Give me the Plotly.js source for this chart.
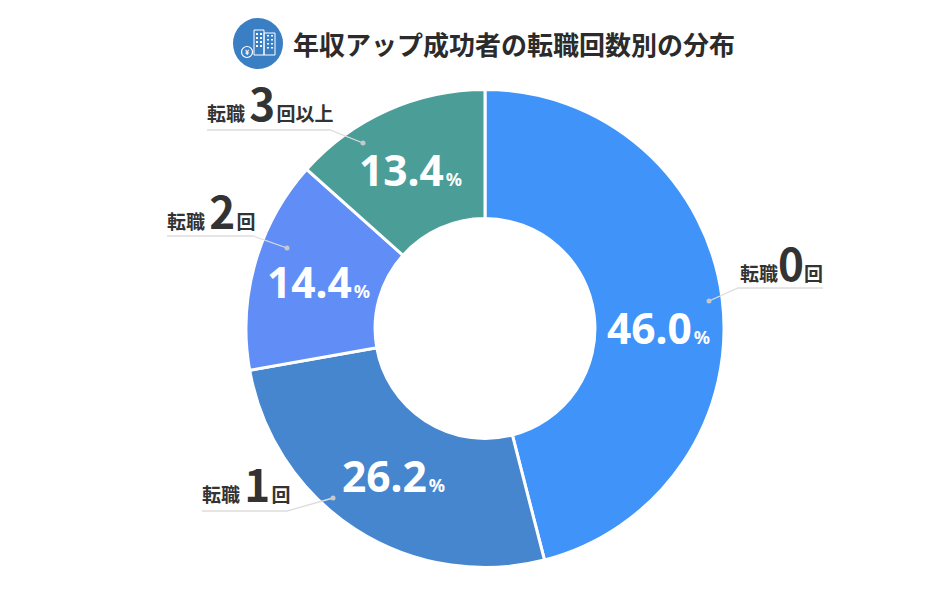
<!DOCTYPE html>
<html><head><meta charset="utf-8">
<script src="https://cdn.plot.ly/plotly-3.0.1.min.js"></script>
<style>html,body{margin:0;padding:0;background:#fff}</style></head>
<body><div id="c" style="width:940px;height:615px"></div>
<script>
const categories = ['転職0回','転職1回','転職2回','転職3回以上'];
const shares = [46.0, 26.2, 14.4, 13.4];
const sliceColors = ['#3F93F9','#4586CF','#618DF6','#4A9E97'];
const labelPrefix = ['転職','転職 ','転職 ','転職 '];
const labelNumbers = ['0','1','2','3'];
const labelSuffix = ['回','\u200A回','\u200A回','\u200A回以上'];
const titleText = '年収アップ成功者の転職回数別の分布';
const W=940,H=615;
const px=x=>x/W, py=y=>1-y/H;
const FONT='"Noto Sans CJK JP","Noto Sans",sans-serif';
const INK='#333333';
function seg(pts,color,width){
  return {type:'path',xref:'paper',yref:'paper',
    path:'M'+pts.map(p=>px(p[0])+','+py(p[1])).join(' L'),
    line:{color:color,width:width}};
}
function dot(x,y){return {type:'circle',xref:'paper',yref:'paper',x0:px(x-2.5),x1:px(x+2.5),y0:py(y+2.5),y1:py(y-2.5),fillcolor:'#C8C8C8',line:{width:0}};}
function box(x0,y0,x1,y1,fill,lc){return {type:'rect',xref:'paper',yref:'paper',x0:px(x0),x1:px(x1),y0:py(y1),y1:py(y0),fillcolor:fill,line:{color:lc||fill,width:lc?1:0}};}
const leaders=[
 {p:[[823,288],[738,288],[709,301]]},
 {p:[[202,511],[287,511],[333,498]]},
 {p:[[167,236],[253,236],[287,248]]},
 {p:[[207,130],[330,130],[363,143]]}
];
const labelPos=[[739,262],[201,483],[166,210],[206,102]];
const pctPos=[[606,327],[341,475],[266,281],[358,170]];
const shapes=[];
leaders.forEach(l=>{shapes.push(seg(l.p,'#DDDDDD',1.3));const e=l.p[2];shapes.push(dot(e[0],e[1]));});
// title icon
shapes.push({type:'circle',xref:'paper',yref:'paper',x0:px(233),x1:px(283),y0:py(69),y1:py(18),fillcolor:'#3A7FC3',line:{width:0}});
shapes.push(box(254,30,264,55,'rgba(0,0,0,0)','#FFFFFF'));
shapes.push(box(264,33,275,55,'rgba(0,0,0,0)','#FFFFFF'));
[33,37,41,45].forEach(y=>{shapes.push(box(256,y,258,y+2,'#FFFFFF'));shapes.push(box(260,y,262,y+2,'#FFFFFF'));shapes.push(box(267,y+2,269,y+3.5,'#FFFFFF'));shapes.push(box(271,y+2,273,y+3.5,'#FFFFFF'));});
shapes.push({type:'circle',xref:'paper',yref:'paper',x0:px(241.5),x1:px(252.5),y0:py(57.5),y1:py(46.5),fillcolor:'#3A7FC3',line:{color:'#FFFFFF',width:1.2}});
const annotations=categories.map((c,i)=>({
  xref:'paper',yref:'paper',x:px(labelPos[i][0]),y:py(labelPos[i][1]),xanchor:'left',yanchor:'middle',showarrow:false,align:'left',
  text:'<b>'+labelPrefix[i]+'<span style="font-size:44px">'+labelNumbers[i]+'</span>'+labelSuffix[i]+'</b>',
  font:{family:FONT,size:19,color:INK},borderpad:0}));
shares.forEach((v,i)=>annotations.push({
  xref:'paper',yref:'paper',x:px(pctPos[i][0]),y:py(pctPos[i][1]),xanchor:'left',yanchor:'middle',showarrow:false,borderpad:0,
  text:'<b>'+v.toFixed(1)+'<span style="font-size:18px">\u200A%</span></b>',
  font:{family:'"Noto Sans","Noto Sans CJK JP",sans-serif',size:42.5,color:'#FFFFFF'}}));
annotations.push({xref:'paper',yref:'paper',x:px(291),y:py(43),xanchor:'left',yanchor:'middle',showarrow:false,
  text:'<b>'+titleText+'</b>',font:{family:FONT,size:26,color:'#2B2B2B'}});
annotations.push({xref:'paper',yref:'paper',x:px(247),y:py(52),xanchor:'center',yanchor:'middle',showarrow:false,text:'<b>¥</b>',font:{family:FONT,size:7,color:'#FFFFFF'}});
Plotly.newPlot('c',[{
  type:'pie',values:shares,labels:categories,hole:0.46,sort:false,direction:'clockwise',rotation:0,
  marker:{colors:sliceColors,line:{color:'#FFFFFF',width:3}},
  textinfo:'none',
  domain:{x:[px(245),px(725)],y:[py(567.5),py(89.5)]},
  showlegend:false,hoverinfo:'label+percent'
}],{width:W,height:H,margin:{l:0,r:0,t:0,b:0},paper_bgcolor:'#FFFFFF',showlegend:false,shapes:shapes,annotations:annotations},{displayModeBar:false,responsive:false});
</script></body></html>
